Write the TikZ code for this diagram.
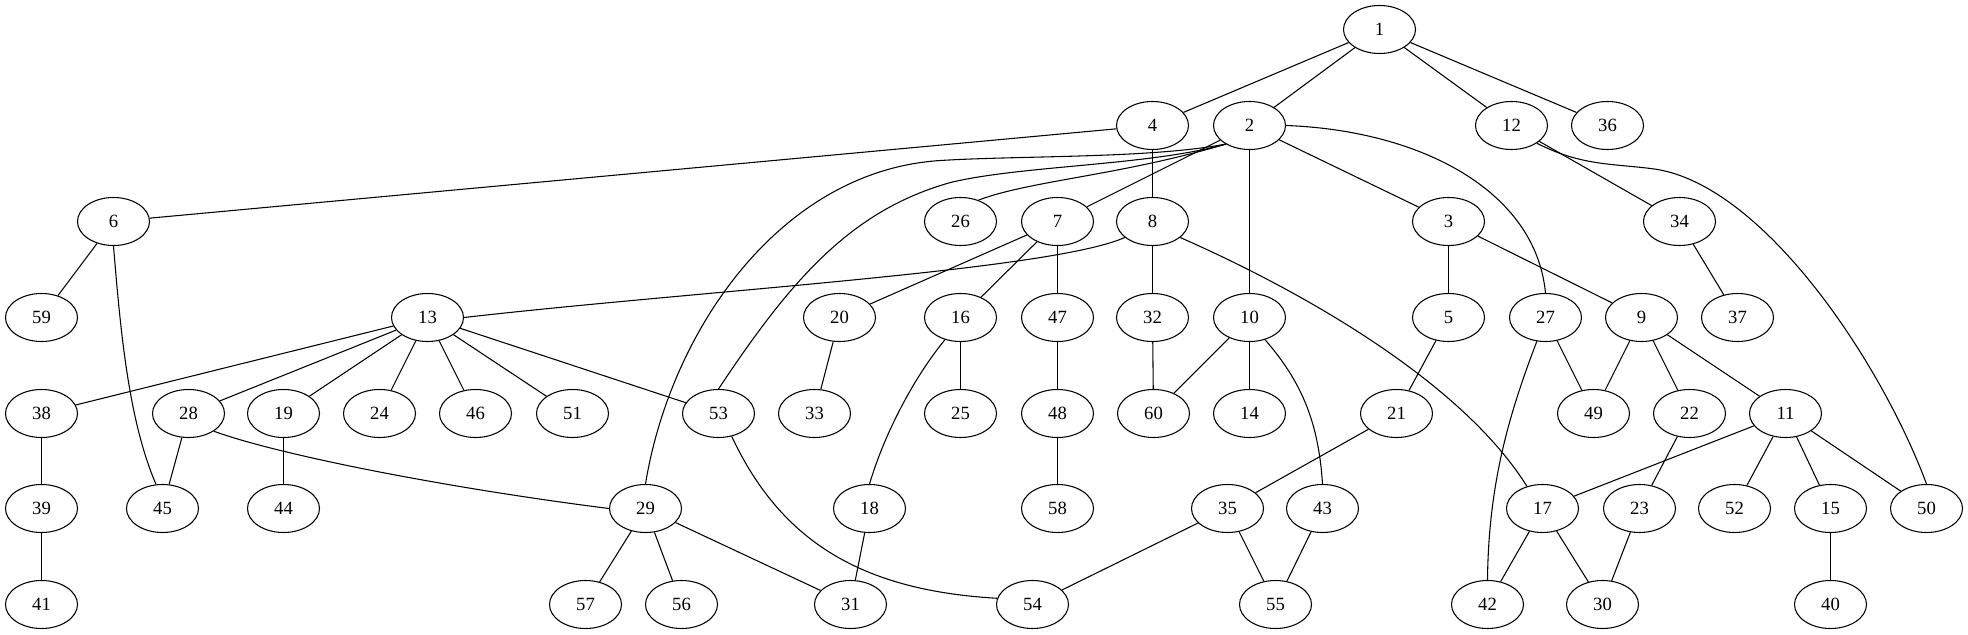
\documentclass[tikz,border=0pt]{standalone}
\usepackage{fontspec}
\setmainfont{Liberation Serif}
\usetikzlibrary{shapes.geometric}
\begin{document}
\begin{tikzpicture}[x=0.75pt,y=-0.75pt,
  gnode/.style={draw,ellipse,minimum width=54pt,minimum height=36pt,inner sep=0pt,font=\fontsize{14}{16}\selectfont,line width=0.8pt},
  gedge/.style={line width=0.8pt}]
\useasboundingbox (0,0) rectangle (1968,635);
\begin{scope}[shift={(0.5,0.5)}]
% row 1
\node[gnode] (n1) at (1379,29) {1};
% row 2
\node[gnode] (n4) at (1152,125) {4};
\node[gnode] (n2) at (1249,125) {2};
\node[gnode] (n12) at (1511,125) {12};
\node[gnode] (n36) at (1607,125) {36};
% row 3
\node[gnode] (n6) at (113,221) {6};
\node[gnode] (n26) at (960,221) {26};
\node[gnode] (n7) at (1057,221) {7};
\node[gnode] (n8) at (1152,221) {8};
\node[gnode] (n3) at (1448,221) {3};
\node[gnode] (n34) at (1679,221) {34};
% row 4
\node[gnode] (n59) at (41,317) {59};
\node[gnode] (n13) at (427,317) {13};
\node[gnode] (n20) at (839,317) {20};
\node[gnode] (n16) at (960,317) {16};
\node[gnode] (n47) at (1057,317) {47};
\node[gnode] (n32) at (1152,317) {32};
\node[gnode] (n10) at (1249,317) {10};
\node[gnode] (n5) at (1448,317) {5};
\node[gnode] (n27) at (1545,317) {27};
\node[gnode] (n9) at (1641,317) {9};
\node[gnode] (n37) at (1737,317) {37};
% row 5
\node[gnode] (n38) at (41,413) {38};
\node[gnode] (n28) at (188,413) {28};
\node[gnode] (n19) at (283,413) {19};
\node[gnode] (n24) at (379,413) {24};
\node[gnode] (n46) at (475,413) {46};
\node[gnode] (n51) at (572,413) {51};
\node[gnode] (n53) at (718,413) {53};
\node[gnode] (n33) at (814,413) {33};
\node[gnode] (n25) at (960,413) {25};
\node[gnode] (n48) at (1057,413) {48};
\node[gnode] (n60) at (1153,413) {60};
\node[gnode] (n14) at (1249,413) {14};
\node[gnode] (n21) at (1396,413) {21};
\node[gnode] (n49) at (1593,413) {49};
\node[gnode] (n22) at (1689,413) {22};
\node[gnode] (n11) at (1785,413) {11};
% row 6
\node[gnode] (n39) at (41,508) {39};
\node[gnode] (n45) at (162,508) {45};
\node[gnode] (n44) at (283,508) {44};
\node[gnode] (n29) at (645,508) {29};
\node[gnode] (n18) at (869,508) {18};
\node[gnode] (n58) at (1057,508) {58};
\node[gnode] (n35) at (1227,508) {35};
\node[gnode] (n43) at (1322,508) {43};
\node[gnode] (n17) at (1542,508) {17};
\node[gnode] (n23) at (1639,508) {23};
\node[gnode] (n52) at (1734,508) {52};
\node[gnode] (n15) at (1830,508) {15};
\node[gnode] (n50) at (1926,508) {50};
% row 7
\node[gnode] (n41) at (41,604) {41};
\node[gnode] (n57) at (585,604) {57};
\node[gnode] (n56) at (681,604) {56};
\node[gnode] (n31) at (850,604) {31};
\node[gnode] (n54) at (1032,604) {54};
\node[gnode] (n55) at (1275,604) {55};
\node[gnode] (n42) at (1487,604) {42};
\node[gnode] (n30) at (1602,604) {30};
\node[gnode] (n40) at (1830,604) {40};

% straight edges
\begin{scope}[gedge]
\draw (n1) -- (n4);
\draw (n1) -- (n2);
\draw (n1) -- (n12);
\draw (n1) -- (n36);
\draw (n4) -- (n6);
\draw (n4) -- (n8);
\draw (n2) -- (n7);
\draw (n2) -- (n10);
\draw (n2) -- (n3);
\draw (n12) -- (n34);
\draw (n6) -- (n59);
\draw (n7) -- (n20);
\draw (n7) -- (n16);
\draw (n7) -- (n47);
\draw (n8) -- (n32);
\draw (n3) -- (n5);
\draw (n3) -- (n9);
\draw (n34) -- (n37);
\draw (n13) -- (n38);
\draw (n13) -- (n28);
\draw (n13) -- (n19);
\draw (n13) -- (n24);
\draw (n13) -- (n46);
\draw (n13) -- (n51);
\draw (n13) -- (n53);
\draw (n20) -- (n33);
\draw (n16) -- (n25);
\draw (n47) -- (n48);
\draw (n32) -- (n60);
\draw (n10) -- (n60);
\draw (n10) -- (n14);
\draw (n5) -- (n21);
\draw (n27) -- (n49);
\draw (n9) -- (n49);
\draw (n9) -- (n22);
\draw (n9) -- (n11);
\draw (n38) -- (n39);
\draw (n28) -- (n45);
\draw (n19) -- (n44);
\draw (n48) -- (n58);
\draw (n21) -- (n35);
\draw (n22) -- (n23);
\draw (n11) -- (n17);
\draw (n11) -- (n52);
\draw (n11) -- (n15);
\draw (n11) -- (n50);
\draw (n39) -- (n41);
\draw (n29) -- (n57);
\draw (n29) -- (n56);
\draw (n29) -- (n31);
\draw (n18) -- (n31);
\draw (n35) -- (n54);
\draw (n35) -- (n55);
\draw (n43) -- (n55);
\draw (n17) -- (n42);
\draw (n17) -- (n30);
\draw (n23) -- (n30);
\draw (n15) -- (n40);
% curved edges
\draw (n2.218) .. controls (1150,158) and (1020,155) .. (940,160) .. controls (780,170) and (670,330) .. (n29.north);
\draw (n2.218) .. controls (1150,165) and (1020,165) .. (950,182) .. controls (850,210) and (790,280) .. (n53.north);
\draw (n2.218) .. controls (1120,175) and (1030,180) .. (n26.50);
\draw (n2.east) .. controls (1420,130) and (1535,190) .. (n27.north);
\draw (n12.-35) .. controls (1580,165) and (1610,163) .. (1650,168) .. controls (1760,180) and (1880,360) .. (n50.north);
\draw (n28.-35) .. controls (280,455) and (450,488) .. (n29.west);
\draw (n6.south) .. controls (120,330) and (128,420) .. (n45.105);
\draw (n8.210) .. controls (1050,270) and (700,290) .. (n13.east);
\draw (n53.-60) .. controls (780,540) and (860,590) .. (n54.170);
\draw (n16.235) .. controls (915,375) and (885,430) .. (n18.north);
\draw (n10.-55) .. controls (1300,380) and (1318,420) .. (n43.north);
\draw (n27.250) .. controls (1510,410) and (1488,480) .. (n42.north);
\draw (n8.-30) .. controls (1300,290) and (1460,380) .. (n17.125);
\end{scope}
\end{scope}
\end{tikzpicture}
\end{document}
